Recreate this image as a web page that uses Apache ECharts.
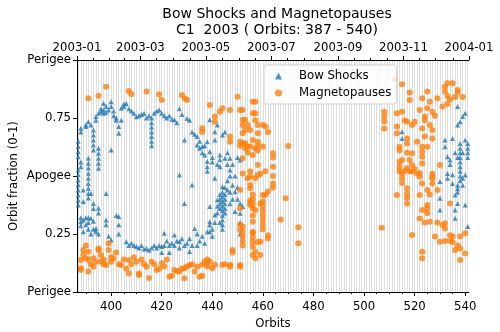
<!DOCTYPE html>
<html>
<head>
<meta charset="utf-8">
<script src="https://cdn.jsdelivr.net/npm/echarts@6/dist/echarts.min.js"></script>
<style>
  html, body { margin: 0; padding: 0; background: #fff; }
  #chart { width: 500px; height: 332px; }
</style>
</head>
<body>
<div id="chart"></div>
<script>
// bow shock crossings: [orbit, orbit fraction]
var bowShocks = [
  [387,0.65],[387,0.627],[387,0.605],[387,0.583],[387,0.526],[387,0.505],[387,0.483],[387,0.462],[387,0.44],[387,0.418],[387,0.397],[387,0.375],
  [388,0.706],[388,0.69],[388,0.56],[388,0.54],[388,0.32],[388,0.303],[388,0.286],
  [389,0.44],[389,0.39],[389,0.26],[389,0.31],
  [390,0.72],[390,0.713],[390,0.32],[390,0.29],
  [391,0.734],[391,0.576],[391,0.555],[391,0.534],[391,0.512],[391,0.49],[391,0.468],[391,0.447],[391,0.425],[391,0.405],[391,0.32],[391,0.3],[391,0.27],
  [392,0.72],[392,0.425],[392,0.318],[392,0.25],
  [393,0.698],[393,0.677],[393,0.655],[393,0.634],[393,0.612],[393,0.382],[393,0.36],[393,0.305],[393,0.27],
  [394,0.756],[394,0.74],[394,0.274],[394,0.26],
  [395,0.77],[395,0.62],[395,0.598],[395,0.576],[395,0.555],[395,0.533],[395,0.361],[395,0.34],[395,0.25],
  [396,0.777],[396,0.79],
  [397,0.813],[397,0.785],[397,0.77],
  [398,0.425],[398,0.31],[398,0.29],[398,0.775],[398,0.8],
  [399,0.785],[399,0.24],
  [400,0.82],[400,0.8],[400,0.612],[400,0.224],
  [401,0.78],[401,0.76],
  [402,0.75],[402,0.74],[402,0.33],
  [403,0.713],[403,0.684],[403,0.325],[403,0.29],[403,0.25],
  [404,0.792],[404,0.74],
  [405,0.81],[405,0.8],
  [406,0.813],[406,0.217],
  [407,0.79],[407,0.2],
  [408,0.78],[408,0.21],
  [409,0.77],[409,0.2],
  [410,0.755],[410,0.196],
  [411,0.76],[411,0.19],
  [412,0.765],[412,0.2],
  [413,0.77],[413,0.185],
  [414,0.75],[414,0.188],
  [415,0.76],[415,0.18],
  [416,0.75],[416,0.73],[416,0.71],[416,0.69],[416,0.67],[416,0.65],[416,0.63],[416,0.19],
  [417,0.77],[417,0.2],
  [418,0.78],[418,0.19],
  [419,0.785],[419,0.2],
  [420,0.77],[420,0.196],[420,0.17],
  [421,0.76],[421,0.253],[421,0.2],
  [422,0.75],[422,0.22],
  [423,0.76],[423,0.2],[423,0.17],
  [424,0.745],[424,0.21],
  [425,0.742],[425,0.246],[425,0.2],
  [426,0.73],[426,0.22],
  [427,0.79],[427,0.504],[427,0.217],[427,0.19],
  [428,0.765],[428,0.23],
  [429,0.655],[429,0.382],[429,0.2],
  [430,0.748],[430,0.21],
  [431,0.74],[431,0.23],[431,0.175],
  [432,0.69],[432,0.461],[432,0.2],
  [433,0.68],[433,0.274],
  [434,0.67],[434,0.634],[434,0.25],[434,0.2],
  [435,0.65],[435,0.62],[435,0.22],
  [436,0.627],[436,0.6],[436,0.24],
  [437,0.63],[437,0.59],[437,0.21],
  [438,0.648],[438,0.562],[438,0.54],[438,0.52],[438,0.26],
  [439,0.742],[439,0.605],[439,0.368],[439,0.303],[439,0.289],[439,0.26],
  [440,0.58],[440,0.56],[440,0.27],[440,0.24],
  [441,0.691],[441,0.655],[441,0.49],[441,0.332],[441,0.3],
  [442,0.72],[442,0.55],[442,0.397],[442,0.37],[442,0.34],
  [443,0.59],[443,0.57],[443,0.54],[443,0.42],[443,0.4],[443,0.38],[443,0.36],[443,0.3],
  [444,0.677],[444,0.454],[444,0.43],[444,0.41],[444,0.39],[444,0.37],[444,0.35],[444,0.33],[444,0.31],[444,0.29],[444,0.27],
  [445,0.69],[445,0.576],[445,0.45],[445,0.42],[445,0.4],[445,0.38],[445,0.36],[445,0.34],
  [446,0.6],[446,0.55],[446,0.48],[446,0.44],
  [447,0.576],[447,0.526],[447,0.5],[447,0.43],[447,0.38],
  [448,0.55],[448,0.46],[448,0.4],
  [449,0.432],[449,0.347],[449,0.5],
  [450,0.58],[450,0.45],[450,0.4],
  [451,0.569],[451,0.382],[451,0.339],[451,0.3],[451,0.25],
  [452,0.368],
  [515,0.691],[515,0.662],
  [530,0.476],[530,0.404],[530,0.353],
  [532,0.655],[532,0.626],
  [533,0.583],[533,0.511],[533,0.49],
  [534,0.569],[534,0.55],
  [535,0.662],[535,0.505],[535,0.468],
  [536,0.6],[536,0.418],[536,0.353],[536,0.318],
  [537,0.8],[537,0.72],[537,0.58],[537,0.46],[537,0.445],[537,0.43],[537,0.382],
  [538,0.734],[538,0.64],[538,0.62],[538,0.6],[538,0.58],[538,0.56],[538,0.54],[538,0.52],[538,0.5],[538,0.48],
  [539,0.756],[539,0.6],[539,0.49],[539,0.46],
  [540,0.77],[540,0.655],[540,0.504],[540,0.375],
  [541,0.64],[541,0.62],[541,0.6],[541,0.58],[541,0.282]
];

// magnetopause crossings: [orbit, orbit fraction]
var magnetopauses = [
  [391,0.835],[395,0.846],[398,0.885],[407,0.866],[408,0.852],[414,0.864],[419,0.852],[420,0.828],
  [428,0.849],[429,0.835],[430,0.828],[439,0.806],[441,0.756],[441,0.734],[443,0.777],[444,0.792],[436,0.706],[436,0.69],
  [388,0.138],[388,0.095],[388,0.102],[389,0.181],[389,0.16],[390,0.2],[390,0.145],[391,0.174],[391,0.088],[391,0.14],
  [392,0.12],[393,0.145],[393,0.11],[394,0.13],[395,0.181],[395,0.188],[396,0.16],[396,0.13],[397,0.14],[397,0.12],
  [398,0.116],[399,0.181],[399,0.21],[400,0.13],[400,0.15],[401,0.145],[402,0.17],[403,0.12],[404,0.116],[405,0.14],
  [406,0.1],[407,0.138],[407,0.08],[408,0.12],[409,0.15],[410,0.13],[411,0.08],[411,0.073],[412,0.14],[413,0.12],
  [414,0.109],[415,0.06],[416,0.13],[417,0.12],[418,0.095],[419,0.1],[420,0.124],[421,0.11],[422,0.14],[423,0.066],
  [424,0.07],[425,0.095],[426,0.09],[427,0.088],[428,0.1],[429,0.059],[429,0.102],[430,0.11],[431,0.115],[432,0.12],
  [433,0.088],[434,0.11],[435,0.066],[436,0.117],[436,0.07],[437,0.13],[438,0.14],[438,0.125],[438,0.11],[439,0.13],
  [440,0.102],[441,0.117],[444,0.117],[445,0.12],[447,0.109],[447,0.117],[448,0.181],[448,0.17],[451,0.116],[451,0.109],
  [447,0.785],[447,0.67],[447,0.648],
  [450,0.842],[451,0.785],[451,0.648],[451,0.63],[451,0.44],[451,0.36],[451,0.29],[451,0.267],
  [452,0.784],[452,0.742],[452,0.72],[452,0.684],[452,0.641],[452,0.576],[452,0.511],[452,0.282],[452,0.26],[452,0.24],[452,0.22],[452,0.2],
  [453,0.742],[453,0.698],[453,0.641],[453,0.62],
  [454,0.72],[454,0.627],[454,0.6],[454,0.49],
  [455,0.698],[455,0.627],[455,0.519],[455,0.497],[455,0.461],[455,0.447],[455,0.396],[455,0.385],[455,0.375],
  [456,0.82],[456,0.77],[456,0.655],[456,0.59],[456,0.42],[456,0.4],[456,0.38],[456,0.36],[456,0.33],[456,0.303],[456,0.26],[456,0.253],[456,0.235],[456,0.215],[456,0.195],[456,0.16],
  [457,0.82],[457,0.77],[457,0.74],[457,0.62],[457,0.49],[457,0.353],[457,0.174],[457,0.145],
  [458,0.72],[458,0.684],[458,0.648],[458,0.63],[458,0.61],[458,0.547],[458,0.504],[458,0.216],
  [459,0.51],[459,0.382],[459,0.217],[459,0.16],
  [460,0.72],[460,0.627],[460,0.418],[460,0.39],[460,0.37],[460,0.35],[460,0.33],[460,0.31],[460,0.29],[460,0.27],
  [461,0.713],[461,0.52],[461,0.418],
  [462,0.69],[462,0.433],[462,0.245],[462,0.231],
  [464,0.598],[464,0.58],[464,0.54],[464,0.5],[464,0.468],[464,0.45],
  [467,0.313],[469,0.404],[470,0.629],[474,0.279],[474,0.21],
  [507,0.277],
  [508,0.777],[508,0.756],[508,0.735],[508,0.705],
  [512,0.917],[513,0.77],[513,0.713],[513,0.684],[513,0.418],
  [514,0.626],[514,0.61],[514,0.56],[514,0.54],[514,0.52],
  [515,0.895],[515,0.777],[515,0.569],[515,0.512],[515,0.49],[515,0.47],
  [516,0.74],[516,0.52],
  [517,0.734],[517,0.662],[517,0.64],[517,0.6],[517,0.533],[517,0.447],[517,0.425],[517,0.405],[517,0.382],
  [518,0.86],[518,0.828],[518,0.569],[518,0.52],
  [519,0.72],[519,0.598],[519,0.547],[519,0.519],[519,0.246],
  [520,0.734],[520,0.53],
  [521,0.648],[521,0.51],
  [522,0.785],[522,0.497],[522,0.512],[522,0.418],[522,0.317],
  [523,0.705],[523,0.626],[523,0.605],[523,0.583],[523,0.554],[523,0.835],[523,0.468],[523,0.353],[523,0.174],[523,0.145],
  [524,0.756],[524,0.74],[524,0.67],[524,0.3],
  [525,0.792],[525,0.864],[525,0.626],[525,0.375],[525,0.36],[525,0.339],[525,0.44],
  [526,0.82],[526,0.72],[526,0.42],[526,0.303],
  [527,0.777],[527,0.698],[527,0.662],[527,0.497],[527,0.468],[527,0.49],[527,0.51],
  [528,0.76],[528,0.239],
  [529,0.835],[529,0.44],[529,0.3],
  [530,0.547],[530,0.217],
  [531,0.289],[531,0.8],
  [532,0.864],[532,0.885],[532,0.296],[532,0.274],[532,0.22],
  [533,0.9],[533,0.845],[533,0.81],
  [534,0.382],[534,0.245],[534,0.22],[534,0.83],
  [535,0.9],[535,0.239],[535,0.215],
  [536,0.181],[536,0.84],
  [537,0.871],[537,0.86],[537,0.2],
  [538,0.239],[538,0.188],[538,0.138],
  [539,0.84],
  [540,0.253],[540,0.166]
];

// tick positions / labels
var orbitTicks = [400, 420, 440, 460, 480, 500, 520, 540];
var orbitMinor = [390, 395, 405, 410, 415, 425, 430, 435, 445, 450, 455, 465, 470, 475, 485, 490, 495, 505, 510, 515, 525, 530, 535];
var orbitLines = [];
for (var o = 387; o <= 541; o++) orbitLines.push(o);
// top axis: days since 2003-01-01
var monthDays = [0, 59, 120, 181, 243, 304, 365];
var monthLabels = ['2003-01', '2003-03', '2003-05', '2003-07', '2003-09', '2003-11', '2004-01'];
var dayMinor = [15, 30, 44, 74, 90, 105, 135, 151, 166, 196, 212, 227, 258, 273, 289, 319, 334, 350];
var fracLabels = ['Perigee', '0.25', 'Apogee', '0.75', 'Perigee'];

var font = 'DejaVu Sans';
var fs = 11.7;
var chart = echarts.init(document.getElementById('chart'));

var orbitMin = 386.5, orbitMax = 541.5;

chart.setOption({
    animation: false,
    textStyle: {fontFamily: font},
    title: {
        text: 'Bow Shocks and Magnetopauses\nC1  2003 ( Orbits: 387 - 540)',
        left: 272,
        textAlign: 'center',
        top: 1,
        textStyle: {fontFamily: font, fontSize: 14, fontWeight: 'normal', color: '#000', lineHeight: 16}
    },
    legend: {
        orient: 'vertical',
        left: 264,
        top: 65,
        itemWidth: 7,
        itemHeight: 7,
        itemGap: 5,
        padding: [5, 5, 5, 11],
        backgroundColor: 'rgba(255,255,255,0.85)',
        borderColor: '#d0d0d0',
        borderWidth: 1,
        borderRadius: 3,
        textStyle: {fontFamily: font, fontSize: fs, color: '#000', padding: [0, 0, 0, 12]},
        data: [
            {name: 'Bow Shocks', icon: 'triangle'},
            {name: 'Magnetopauses', icon: 'circle'}
        ]
    },
    grid: {left: 77, right: 31, top: 60, bottom: 40, outerBoundsMode: 'none'},
    xAxis: [
        {
            type: 'value', position: 'bottom', min: orbitMin, max: orbitMax,
            name: 'Orbits', nameLocation: 'middle', nameGap: 25,
            nameTextStyle: {fontFamily: font, fontSize: fs, color: '#000'},
            axisLine: {lineStyle: {color: '#000', width: 1}},
            axisTick: {customValues: orbitTicks, length: 4, lineStyle: {color: '#000'}},
            axisLabel: {customValues: orbitTicks, fontFamily: font, fontSize: fs, color: '#000', margin: 9},
            splitLine: {show: false}
        },
        {
            type: 'value', position: 'bottom', min: orbitMin, max: orbitMax,
            axisLine: {show: false},
            axisTick: {customValues: orbitMinor, length: 2, lineStyle: {color: '#000'}},
            axisLabel: {show: false},
            splitLine: {show: false}
        },
        {
            type: 'value', position: 'bottom', min: orbitMin, max: orbitMax,
            axisLine: {show: false},
            axisTick: {show: false, customValues: orbitLines},
            axisLabel: {show: false},
            splitLine: {show: true, lineStyle: {color: '#d6d6d6', width: 0.8}}
        },
        {
            type: 'value', position: 'top', min: 0, max: 365,
            axisLine: {lineStyle: {color: '#000', width: 1}},
            axisTick: {customValues: monthDays, length: 4, lineStyle: {color: '#000'}},
            axisLabel: {
                customValues: monthDays, fontFamily: font, fontSize: fs, color: '#000', margin: 6,
                formatter: function (v) { return monthLabels[monthDays.indexOf(v)] || ''; }
            },
            splitLine: {show: false}
        },
        {
            type: 'value', position: 'top', min: 0, max: 365,
            axisLine: {show: false},
            axisTick: {customValues: dayMinor, length: 2, lineStyle: {color: '#000'}},
            axisLabel: {show: false},
            splitLine: {show: false}
        }
    ],
    yAxis: [
        {
            type: 'value', min: 0, max: 1, interval: 0.25,
            name: 'Orbit fraction (0-1)', nameLocation: 'middle', nameGap: 57, nameRotate: 90,
            nameMoveOverlap: false,
            nameTextStyle: {fontFamily: font, fontSize: fs, color: '#000'},
            axisLine: {show: true, lineStyle: {color: '#000', width: 1}},
            axisTick: {show: true, length: 4, lineStyle: {color: '#000'}},
            axisLabel: {
                fontFamily: font, fontSize: fs, color: '#000', margin: 6,
                formatter: function (v) { return fracLabels[Math.round(v * 4)]; }
            },
            splitLine: {show: false}
        },
        {
            type: 'value', min: 0, max: 1, position: 'right',
            axisLine: {show: true, lineStyle: {color: '#000', width: 1}},
            axisTick: {show: false},
            axisLabel: {show: false},
            splitLine: {show: false}
        }
    ],
    series: [
        {
            name: 'Bow Shocks', type: 'scatter', symbol: 'triangle', symbolSize: 5,
            xAxisIndex: 0, yAxisIndex: 0,
            itemStyle: {color: '#1f77b4'},
            data: bowShocks
        },
        {
            name: 'Magnetopauses', type: 'scatter', symbol: 'circle', symbolSize: 6,
            xAxisIndex: 0, yAxisIndex: 0,
            itemStyle: {color: '#ff7f0e'},
            data: magnetopauses
        }
    ]
});
</script>
</body>
</html>
